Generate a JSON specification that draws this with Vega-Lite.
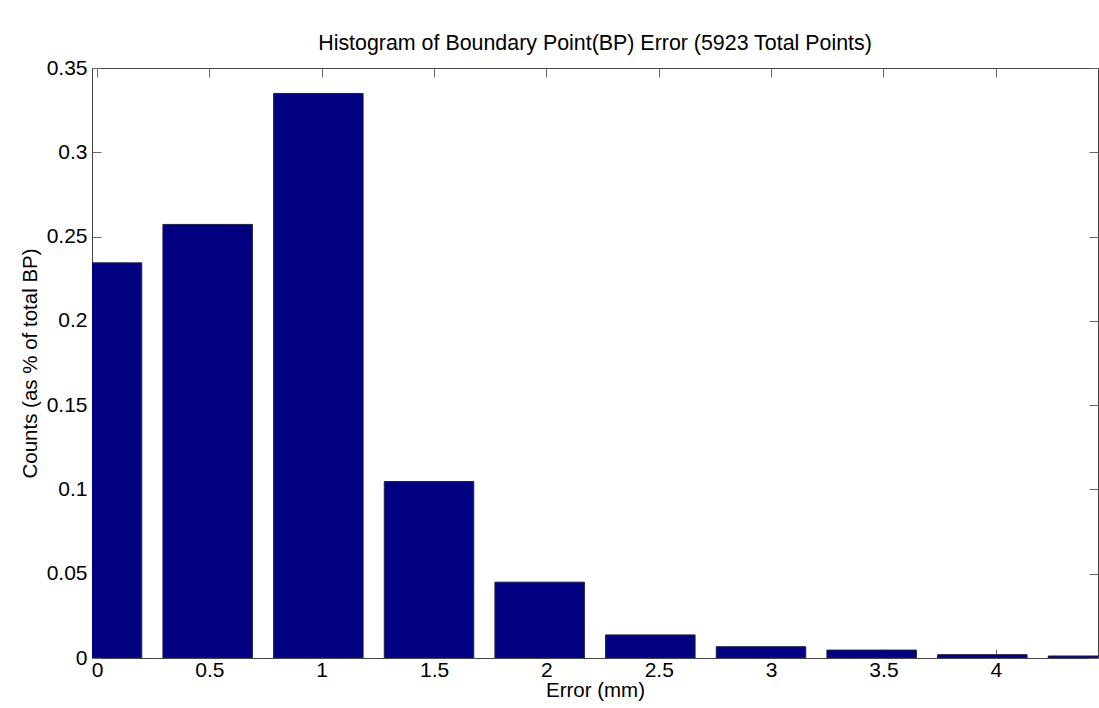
{
  "$schema": "https://vega.github.io/schema/vega-lite/v6.json",
  "autosize": {"type": "none"},
  "width": 1006,
  "height": 590,
  "padding": {"left": 92, "top": 68, "right": 1, "bottom": 50},
  "background": "white",
  "title": {
    "text": "Histogram of Boundary Point(BP) Error (5923 Total Points)",
    "font": "Liberation Sans",
    "fontSize": 21.4,
    "fontWeight": "normal",
    "color": "#000000",
    "anchor": "middle",
    "offset": 3
  },
  "config": {
    "view": {"stroke": "#444444", "strokeWidth": 1},
    "axis": {
      "labelFont": "Liberation Sans",
      "labelFontSize": 21,
      "labelColor": "#000000",
      "titleFont": "Liberation Sans",
      "titleFontSize": 20.5,
      "titleFontWeight": "normal",
      "titleColor": "#000000",
      "grid": false,
      "domain": false,
      "tickColor": "#666666",
      "tickSize": -9
    }
  },
  "data": {
    "values": [
      {"error": 0.0, "frac": 0.2344},
      {"error": 0.4925, "frac": 0.2572},
      {"error": 0.985, "frac": 0.3349},
      {"error": 1.4775, "frac": 0.1047},
      {"error": 1.97, "frac": 0.045},
      {"error": 2.4625, "frac": 0.0137},
      {"error": 2.955, "frac": 0.0067},
      {"error": 3.4475, "frac": 0.0047},
      {"error": 3.94, "frac": 0.002},
      {"error": 4.4325, "frac": 0.0012}
    ]
  },
  "layer": [
    {
      "mark": {"type": "bar", "width": 89.5, "fill": "#000080", "stroke": "#20204a", "strokeWidth": 1, "clip": true},
      "encoding": {
        "x": {
          "field": "error",
          "type": "quantitative",
          "scale": {"domain": [0, 4.4325], "nice": false, "zero": false},
          "axis": {
            "orient": "bottom",
            "title": "Error (mm)",
            "titlePadding": 0,
            "values": [0, 0.5, 1, 1.5, 2, 2.5, 3, 3.5, 4],
            "format": "~g",
            "labelPadding": 10,
            "labelFlush": false
          }
        },
        "y": {
          "field": "frac",
          "type": "quantitative",
          "scale": {"domain": [0, 0.35], "nice": false},
          "axis": {
            "orient": "left",
            "title": "Counts (as % of total BP)",
            "titlePadding": 6,
            "values": [0, 0.05, 0.1, 0.15, 0.2, 0.25, 0.3, 0.35],
            "format": "~g",
            "labelPadding": 14
          }
        }
      }
    },
    {
      "mark": {"type": "bar", "width": 89.5, "opacity": 0, "clip": true},
      "encoding": {
        "x": {
          "field": "error",
          "type": "quantitative",
          "scale": {"domain": [0, 4.4325], "nice": false, "zero": false},
          "axis": {"orient": "top", "title": null, "labels": false, "values": [0, 0.5, 1, 1.5, 2, 2.5, 3, 3.5, 4]}
        },
        "y": {
          "field": "frac",
          "type": "quantitative",
          "scale": {"domain": [0, 0.35], "nice": false},
          "axis": {"orient": "right", "title": null, "labels": false, "values": [0, 0.05, 0.1, 0.15, 0.2, 0.25, 0.3, 0.35]}
        }
      }
    }
  ],
  "resolve": {"axis": {"x": "independent", "y": "independent"}}
}
